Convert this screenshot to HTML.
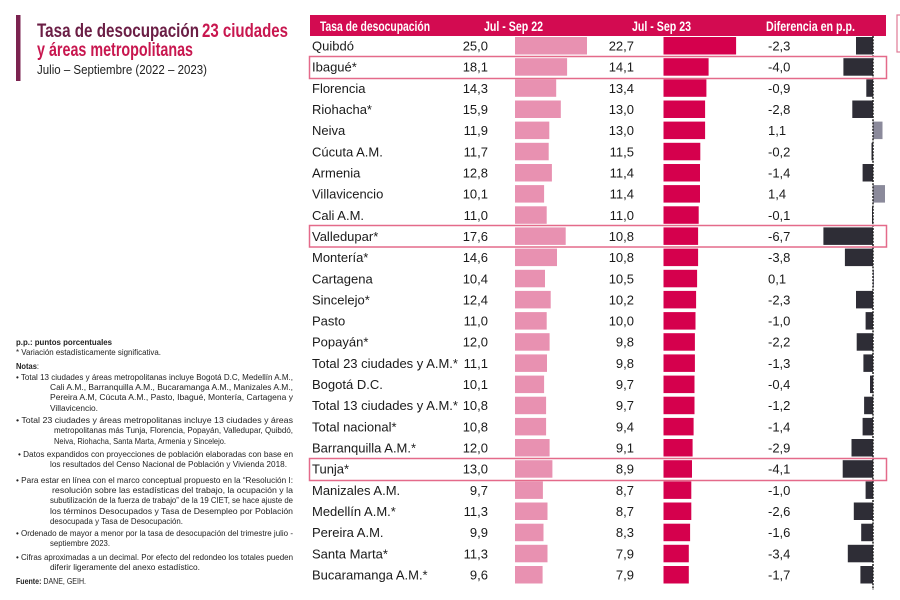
<!DOCTYPE html>
<html><head><meta charset="utf-8"><style>
html,body{margin:0;padding:0;background:#fff;}
svg{display:block;}
</style></head><body>
<svg width="900" height="600" viewBox="0 0 900 600" xmlns="http://www.w3.org/2000/svg" font-family="'Liberation Sans', Arial, sans-serif">
<rect width="900" height="600" fill="#fff"/>
<!-- Title -->
<rect x="16" y="15" width="4.5" height="66" fill="#7b2350"/>
<text x="37" y="37" font-size="19" font-weight="bold" fill="#6b1e45" textLength="162" lengthAdjust="spacingAndGlyphs">Tasa de desocupación</text>
<text x="202" y="37" font-size="19" font-weight="bold" fill="#c8174f" textLength="86" lengthAdjust="spacingAndGlyphs">23 ciudades</text>
<text x="37" y="56" font-size="19" font-weight="bold" fill="#c8174f" textLength="156" lengthAdjust="spacingAndGlyphs">y áreas metropolitanas</text>
<text x="37" y="74" font-size="13" fill="#222" textLength="170" lengthAdjust="spacingAndGlyphs">Julio – Septiembre (2022 – 2023)</text>

<!-- Notes -->
<g font-size="8.6" fill="#222">
<text x="16" y="345" font-weight="bold" textLength="96" lengthAdjust="spacingAndGlyphs">p.p.: puntos porcentuales</text>
<text x="16" y="355" textLength="145" lengthAdjust="spacingAndGlyphs">* Variación estadísticamente significativa.</text>
<text x="16" y="369" textLength="23" lengthAdjust="spacingAndGlyphs"><tspan font-weight="bold">Notas</tspan>:</text>
<text x="16" y="380" textLength="277" lengthAdjust="spacingAndGlyphs">• Total 13 ciudades y áreas metropolitanas incluye Bogotá D.C, Medellín A.M.,</text>
<text x="50" y="390" textLength="243" lengthAdjust="spacingAndGlyphs">Cali A.M., Barranquilla A.M., Bucaramanga A.M., Manizales A.M.,</text>
<text x="50" y="400" textLength="243" lengthAdjust="spacingAndGlyphs">Pereira A.M, Cúcuta A.M., Pasto, Ibagué, Montería, Cartagena y</text>
<text x="50" y="411" textLength="48" lengthAdjust="spacingAndGlyphs">Villavicencio.</text>
<text x="16" y="423" textLength="277" lengthAdjust="spacingAndGlyphs">• Total 23 ciudades y áreas metropolitanas incluye 13 ciudades y áreas</text>
<text x="54" y="433" textLength="239" lengthAdjust="spacingAndGlyphs">metropolitanas más Tunja, Florencia, Popayán, Valledupar, Quibdó,</text>
<text x="54" y="444" textLength="172" lengthAdjust="spacingAndGlyphs">Neiva, Riohacha, Santa Marta, Armenia y Sincelejo.</text>
<text x="18" y="457" textLength="275" lengthAdjust="spacingAndGlyphs">• Datos expandidos con proyecciones de población elaboradas con base en</text>
<text x="50" y="467" textLength="237" lengthAdjust="spacingAndGlyphs">los resultados del Censo Nacional de Población y Vivienda 2018.</text>
<text x="16" y="483" textLength="277" lengthAdjust="spacingAndGlyphs">• Para estar en línea con el marco conceptual propuesto en la “Resolución I:</text>
<text x="52" y="493" textLength="241" lengthAdjust="spacingAndGlyphs">resolución sobre las estadísticas del trabajo, la ocupación y la</text>
<text x="50" y="503" textLength="243" lengthAdjust="spacingAndGlyphs">subutilización de la fuerza de trabajo” de la 19 CIET, se hace ajuste de</text>
<text x="50" y="514" textLength="243" lengthAdjust="spacingAndGlyphs">los términos Desocupados y Tasa de Desempleo por Población</text>
<text x="50" y="524" textLength="133" lengthAdjust="spacingAndGlyphs">desocupada y Tasa de Desocupación.</text>
<text x="16" y="536" textLength="277" lengthAdjust="spacingAndGlyphs">• Ordenado de mayor a menor por la tasa de desocupación del trimestre julio -</text>
<text x="50" y="546" textLength="60" lengthAdjust="spacingAndGlyphs">septiembre 2023.</text>
<text x="16" y="560" textLength="277" lengthAdjust="spacingAndGlyphs">• Cifras aproximadas a un decimal. Por efecto del redondeo los totales pueden</text>
<text x="50" y="570" textLength="150" lengthAdjust="spacingAndGlyphs">diferir ligeramente del anexo estadístico.</text>
<text x="16" y="584" textLength="70" lengthAdjust="spacingAndGlyphs"><tspan font-weight="bold">Fuente:</tspan> DANE, GEIH.</text>
</g>

<!-- Header -->
<rect x="310" y="15" width="576" height="21" fill="#d30b51"/>
<g font-size="14" font-weight="bold" fill="#fff">
<text x="320" y="31" textLength="110" lengthAdjust="spacingAndGlyphs">Tasa de desocupación</text>
<text x="484" y="31" textLength="59" lengthAdjust="spacingAndGlyphs">Jul - Sep 22</text>
<text x="632" y="31" textLength="59" lengthAdjust="spacingAndGlyphs">Jul - Sep 23</text>
<text x="766" y="31" textLength="89" lengthAdjust="spacingAndGlyphs">Diferencia en p.p.</text>
</g>
<rect x="897" y="15" width="10" height="37" fill="none" stroke="#e07a95" stroke-width="1.2"/>

<!-- Pink bars (Jul-Sep 22) -->
<g fill="#e891b1">
<rect x="515" y="37" width="72.0" height="17.5"/>
<rect x="515" y="58.2" width="52.1" height="17.5"/>
<rect x="515" y="79.3" width="41.2" height="17.5"/>
<rect x="515" y="100.5" width="45.8" height="17.5"/>
<rect x="515" y="121.6" width="34.3" height="17.5"/>
<rect x="515" y="142.8" width="33.7" height="17.5"/>
<rect x="515" y="164" width="36.9" height="17.5"/>
<rect x="515" y="185.1" width="29.1" height="17.5"/>
<rect x="515" y="206.3" width="31.7" height="17.5"/>
<rect x="515" y="227.4" width="50.7" height="17.5"/>
<rect x="515" y="248.6" width="42.0" height="17.5"/>
<rect x="515" y="269.8" width="30.0" height="17.5"/>
<rect x="515" y="290.9" width="35.7" height="17.5"/>
<rect x="515" y="312.1" width="31.7" height="17.5"/>
<rect x="515" y="333.2" width="34.6" height="17.5"/>
<rect x="515" y="354.4" width="32.0" height="17.5"/>
<rect x="515" y="375.6" width="29.1" height="17.5"/>
<rect x="515" y="396.7" width="31.1" height="17.5"/>
<rect x="515" y="417.9" width="31.1" height="17.5"/>
<rect x="515" y="439" width="34.6" height="17.5"/>
<rect x="515" y="460.2" width="37.4" height="17.5"/>
<rect x="515" y="481.4" width="27.9" height="17.5"/>
<rect x="515" y="502.5" width="32.5" height="17.5"/>
<rect x="515" y="523.7" width="28.5" height="17.5"/>
<rect x="515" y="544.8" width="32.5" height="17.5"/>
<rect x="515" y="566" width="27.6" height="17.5"/>
</g>

<!-- Crimson bars (Jul-Sep 23) -->
<g fill="#d5004d">
<rect x="663.5" y="37" width="72.6" height="17.5"/>
<rect x="663.5" y="58.2" width="45.1" height="17.5"/>
<rect x="663.5" y="79.3" width="42.9" height="17.5"/>
<rect x="663.5" y="100.5" width="41.6" height="17.5"/>
<rect x="663.5" y="121.6" width="41.6" height="17.5"/>
<rect x="663.5" y="142.8" width="36.8" height="17.5"/>
<rect x="663.5" y="164" width="36.5" height="17.5"/>
<rect x="663.5" y="185.1" width="36.5" height="17.5"/>
<rect x="663.5" y="206.3" width="35.2" height="17.5"/>
<rect x="663.5" y="227.4" width="34.6" height="17.5"/>
<rect x="663.5" y="248.6" width="34.6" height="17.5"/>
<rect x="663.5" y="269.8" width="33.6" height="17.5"/>
<rect x="663.5" y="290.9" width="32.6" height="17.5"/>
<rect x="663.5" y="312.1" width="32.0" height="17.5"/>
<rect x="663.5" y="333.2" width="31.4" height="17.5"/>
<rect x="663.5" y="354.4" width="31.4" height="17.5"/>
<rect x="663.5" y="375.6" width="31.0" height="17.5"/>
<rect x="663.5" y="396.7" width="31.0" height="17.5"/>
<rect x="663.5" y="417.9" width="30.1" height="17.5"/>
<rect x="663.5" y="439" width="29.1" height="17.5"/>
<rect x="663.5" y="460.2" width="28.5" height="17.5"/>
<rect x="663.5" y="481.4" width="27.8" height="17.5"/>
<rect x="663.5" y="502.5" width="27.8" height="17.5"/>
<rect x="663.5" y="523.7" width="26.6" height="17.5"/>
<rect x="663.5" y="544.8" width="25.3" height="17.5"/>
<rect x="663.5" y="566" width="25.3" height="17.5"/>
</g>

<!-- Difference bars -->
<g fill="#2e2d36">
<rect x="856" y="37" width="17" height="17.5"/>
<rect x="843.4" y="58.2" width="29.6" height="17.5"/>
<rect x="866.3" y="79.3" width="6.7" height="17.5"/>
<rect x="852.3" y="100.5" width="20.7" height="17.5"/>
<rect x="871.5" y="142.8" width="1.5" height="17.5"/>
<rect x="862.6" y="164" width="10.4" height="17.5"/>
<rect x="872" y="206.3" width="1" height="17.5"/>
<rect x="823.4" y="227.4" width="49.6" height="17.5"/>
<rect x="844.9" y="248.6" width="28.1" height="17.5"/>
<rect x="856" y="290.9" width="17" height="17.5"/>
<rect x="865.6" y="312.1" width="7.4" height="17.5"/>
<rect x="856.7" y="333.2" width="16.3" height="17.5"/>
<rect x="863.4" y="354.4" width="9.6" height="17.5"/>
<rect x="870" y="375.6" width="3" height="17.5"/>
<rect x="864.1" y="396.7" width="8.9" height="17.5"/>
<rect x="862.6" y="417.9" width="10.4" height="17.5"/>
<rect x="851.5" y="439" width="21.5" height="17.5"/>
<rect x="842.7" y="460.2" width="30.3" height="17.5"/>
<rect x="865.6" y="481.4" width="7.4" height="17.5"/>
<rect x="853.8" y="502.5" width="19.2" height="17.5"/>
<rect x="861.2" y="523.7" width="11.8" height="17.5"/>
<rect x="847.8" y="544.8" width="25.2" height="17.5"/>
<rect x="860.4" y="566" width="12.6" height="17.5"/>
</g>
<g fill="#8b8a9b">
<rect x="873" y="121.6" width="9.5" height="17.5"/>
<rect x="873" y="185.1" width="12" height="17.5"/>
<rect x="873" y="269.8" width="1" height="17.5"/>
</g>
<line x1="873" y1="36" x2="873" y2="590" stroke="#222" stroke-width="1.5" stroke-dasharray="2 1.2"/>

<!-- Highlight boxes -->
<g fill="none" stroke="#e46a8a" stroke-width="1.5">
<rect x="309.5" y="56.5" width="577" height="22"/>
<rect x="309.5" y="225.5" width="577" height="21.5"/>
<rect x="309.5" y="458.5" width="577" height="22"/>
</g>

<!-- Row labels -->
<g font-size="13" fill="#1a1a1a">
<text x="312" y="50.5">Quibdó</text>
<text x="312" y="71.7">Ibagué*</text>
<text x="312" y="92.8">Florencia</text>
<text x="312" y="114">Riohacha*</text>
<text x="312" y="135.1">Neiva</text>
<text x="312" y="156.3">Cúcuta A.M.</text>
<text x="312" y="177.5">Armenia</text>
<text x="312" y="198.6">Villavicencio</text>
<text x="312" y="219.8">Cali A.M.</text>
<text x="312" y="240.9">Valledupar*</text>
<text x="312" y="262.1">Montería*</text>
<text x="312" y="283.3">Cartagena</text>
<text x="312" y="304.4">Sincelejo*</text>
<text x="312" y="325.6">Pasto</text>
<text x="312" y="346.7">Popayán*</text>
<text x="312" y="367.9">Total 23 ciudades y A.M.*</text>
<text x="312" y="389.1">Bogotá D.C.</text>
<text x="312" y="410.2">Total 13 ciudades y A.M.*</text>
<text x="312" y="431.4">Total nacional*</text>
<text x="312" y="452.5">Barranquilla A.M.*</text>
<text x="312" y="473.7">Tunja*</text>
<text x="312" y="494.9">Manizales A.M.</text>
<text x="312" y="516">Medellín A.M.*</text>
<text x="312" y="537.2">Pereira A.M.</text>
<text x="312" y="558.3">Santa Marta*</text>
<text x="312" y="579.5">Bucaramanga A.M.*</text>
</g>
<g font-size="13" fill="#1a1a1a" text-anchor="end">
<text x="488" y="50.5">25,0</text>
<text x="488" y="71.7">18,1</text>
<text x="488" y="92.8">14,3</text>
<text x="488" y="114">15,9</text>
<text x="488" y="135.1">11,9</text>
<text x="488" y="156.3">11,7</text>
<text x="488" y="177.5">12,8</text>
<text x="488" y="198.6">10,1</text>
<text x="488" y="219.8">11,0</text>
<text x="488" y="240.9">17,6</text>
<text x="488" y="262.1">14,6</text>
<text x="488" y="283.3">10,4</text>
<text x="488" y="304.4">12,4</text>
<text x="488" y="325.6">11,0</text>
<text x="488" y="346.7">12,0</text>
<text x="488" y="367.9">11,1</text>
<text x="488" y="389.1">10,1</text>
<text x="488" y="410.2">10,8</text>
<text x="488" y="431.4">10,8</text>
<text x="488" y="452.5">12,0</text>
<text x="488" y="473.7">13,0</text>
<text x="488" y="494.9">9,7</text>
<text x="488" y="516">11,3</text>
<text x="488" y="537.2">9,9</text>
<text x="488" y="558.3">11,3</text>
<text x="488" y="579.5">9,6</text>

<text x="634" y="50.5">22,7</text>
<text x="634" y="71.7">14,1</text>
<text x="634" y="92.8">13,4</text>
<text x="634" y="114">13,0</text>
<text x="634" y="135.1">13,0</text>
<text x="634" y="156.3">11,5</text>
<text x="634" y="177.5">11,4</text>
<text x="634" y="198.6">11,4</text>
<text x="634" y="219.8">11,0</text>
<text x="634" y="240.9">10,8</text>
<text x="634" y="262.1">10,8</text>
<text x="634" y="283.3">10,5</text>
<text x="634" y="304.4">10,2</text>
<text x="634" y="325.6">10,0</text>
<text x="634" y="346.7">9,8</text>
<text x="634" y="367.9">9,8</text>
<text x="634" y="389.1">9,7</text>
<text x="634" y="410.2">9,7</text>
<text x="634" y="431.4">9,4</text>
<text x="634" y="452.5">9,1</text>
<text x="634" y="473.7">8,9</text>
<text x="634" y="494.9">8,7</text>
<text x="634" y="516">8,7</text>
<text x="634" y="537.2">8,3</text>
<text x="634" y="558.3">7,9</text>
<text x="634" y="579.5">7,9</text>
</g>
<g font-size="13" fill="#1a1a1a">
<text x="768" y="50.5">-2,3</text>
<text x="768" y="71.7">-4,0</text>
<text x="768" y="92.8">-0,9</text>
<text x="768" y="114">-2,8</text>
<text x="768" y="135.1">1,1</text>
<text x="768" y="156.3">-0,2</text>
<text x="768" y="177.5">-1,4</text>
<text x="768" y="198.6">1,4</text>
<text x="768" y="219.8">-0,1</text>
<text x="768" y="240.9">-6,7</text>
<text x="768" y="262.1">-3,8</text>
<text x="768" y="283.3">0,1</text>
<text x="768" y="304.4">-2,3</text>
<text x="768" y="325.6">-1,0</text>
<text x="768" y="346.7">-2,2</text>
<text x="768" y="367.9">-1,3</text>
<text x="768" y="389.1">-0,4</text>
<text x="768" y="410.2">-1,2</text>
<text x="768" y="431.4">-1,4</text>
<text x="768" y="452.5">-2,9</text>
<text x="768" y="473.7">-4,1</text>
<text x="768" y="494.9">-1,0</text>
<text x="768" y="516">-2,6</text>
<text x="768" y="537.2">-1,6</text>
<text x="768" y="558.3">-3,4</text>
<text x="768" y="579.5">-1,7</text>
</g>
</svg>
</body></html>
